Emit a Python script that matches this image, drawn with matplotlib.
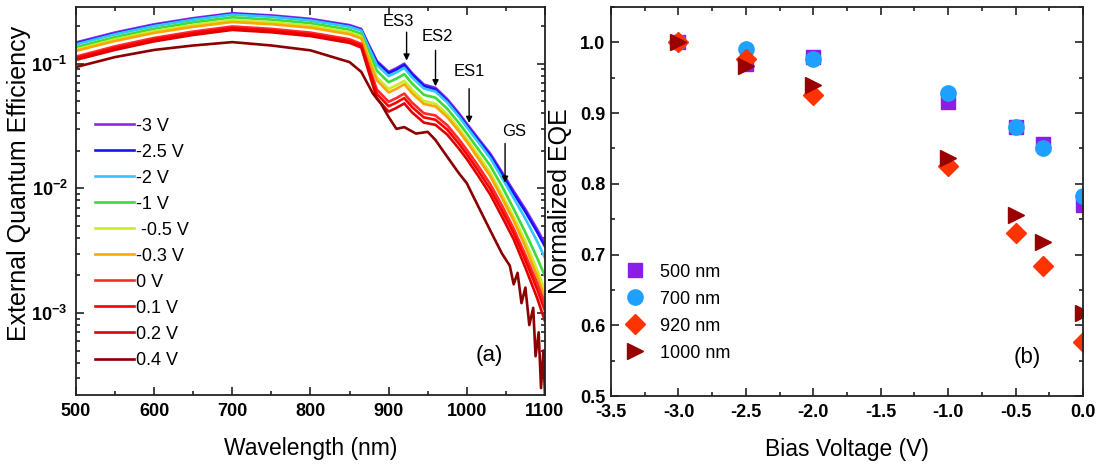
import math

import matplotlib
matplotlib.use('Agg')
import matplotlib.pyplot as plt
from matplotlib.ticker import MultipleLocator, LogLocator, FuncFormatter, NullFormatter

FONT = 'Liberation Sans'
plt.rcParams['font.family'] = [FONT, 'DejaVu Sans']
plt.rcParams['axes.unicode_minus'] = False
plt.rcParams['mathtext.fontset'] = 'custom'
plt.rcParams['mathtext.rm'] = FONT
plt.rcParams['mathtext.bf'] = FONT + ':bold'

# ---- panel (a): EQE spectra at different bias ----
wl = [500, 550, 600, 650, 700, 750, 800, 850, 865, 875, 885, 900, 910, 920, 930,
      945, 960, 975, 990, 1000, 1015, 1030, 1045, 1060, 1075, 1090, 1100]

eqe_m3 = [0.148, 0.178, 0.207, 0.232, 0.254, 0.244, 0.229, 0.204, 0.190, 0.140, 0.105, 0.086, 0.092, 0.100,
          0.084, 0.068, 0.064, 0.052, 0.040, 0.033, 0.025, 0.019, 0.0135, 0.0095, 0.0068, 0.0047, 0.0036]
eqe_m25 = [0.145, 0.174, 0.203, 0.227, 0.251, 0.240, 0.224, 0.200, 0.186, 0.137, 0.1025, 0.084, 0.0898, 0.0976,
           0.082, 0.0664, 0.0621, 0.0502, 0.0386, 0.0319, 0.0242, 0.0184, 0.0130, 0.00912, 0.00649, 0.00447, 0.00342]
eqe_m2 = [0.1428, 0.1723, 0.2008, 0.2257, 0.2479, 0.2379, 0.2226, 0.1979, 0.1843, 0.133, 0.0977, 0.0796, 0.0851,
          0.0925, 0.0777, 0.0632, 0.0598, 0.0489, 0.0376, 0.0310, 0.0233, 0.0175, 0.01215, 0.00836, 0.00571,
          0.00376, 0.00277]
eqe_m1 = [0.1354, 0.1634, 0.1909, 0.2146, 0.2357, 0.2259, 0.2116, 0.1877, 0.1739, 0.1218, 0.0877, 0.0710, 0.0759,
          0.0825, 0.0693, 0.0564, 0.0533, 0.0435, 0.0334, 0.0276, 0.0205, 0.0152, 0.0104, 0.00684, 0.00442,
          0.00277, 0.00198]
eqe_m05 = [0.1302, 0.1566, 0.1822, 0.2042, 0.2235, 0.2147, 0.2015, 0.1785, 0.1653, 0.112, 0.0777, 0.0628, 0.0672,
           0.073, 0.0617, 0.0503, 0.0477, 0.0393, 0.0302, 0.0249, 0.0183, 0.0133, 0.00891, 0.00589, 0.00374,
           0.00221, 0.00151]
eqe_m03 = [0.1268, 0.1522, 0.1766, 0.1977, 0.2159, 0.2074, 0.1947, 0.1724, 0.1596, 0.1064, 0.0735, 0.0588, 0.0629,
           0.0684, 0.0580, 0.0476, 0.0454, 0.0373, 0.0287, 0.0237, 0.01725, 0.01254, 0.00837, 0.00551, 0.0034,
           0.00197, 0.00133]
eqe_0 = [0.1140, 0.1378, 0.1610, 0.1810, 0.1989, 0.1903, 0.1775, 0.1571, 0.1444, 0.0938, 0.0620, 0.0495, 0.0530,
         0.0576, 0.0487, 0.0401, 0.0384, 0.0321, 0.0247, 0.0204, 0.0150, 0.01083, 0.00729, 0.00475, 0.00292,
         0.00174, 0.00119]
eqe_01 = [0.111, 0.1335, 0.1563, 0.1759, 0.1930, 0.1847, 0.1722, 0.1520, 0.1397, 0.0896, 0.0572, 0.0456, 0.0488,
          0.053, 0.0449, 0.0371, 0.0355, 0.0296, 0.0228, 0.0188, 0.01375, 0.00988, 0.00662, 0.00437, 0.00265,
          0.00155, 0.00104]
eqe_02 = [0.1073, 0.1291, 0.1511, 0.1701, 0.1867, 0.1786, 0.1665, 0.1469, 0.1349, 0.084, 0.0525, 0.0413, 0.0442,
          0.048, 0.0407, 0.0337, 0.0323, 0.0270, 0.0208, 0.0172, 0.0125, 0.00893, 0.00594, 0.0039, 0.00231,
          0.00132, 0.00086]

wl_04 = [500, 550, 600, 650, 700, 750, 800, 850, 865, 880, 890, 900, 910, 920, 935, 950, 960, 975, 990, 1000,
         1015, 1030, 1045, 1055, 1060, 1065, 1070, 1075, 1080, 1085, 1088, 1092, 1095, 1098, 1100]
eqe_04 = [0.094, 0.113, 0.129, 0.140, 0.149, 0.140, 0.128, 0.103, 0.086, 0.0575, 0.048, 0.0374, 0.030, 0.031,
          0.0275, 0.0284, 0.0244, 0.0179, 0.0132, 0.011, 0.0071, 0.0046, 0.0030, 0.0024, 0.0017, 0.0021, 0.0012,
          0.0016, 0.0008, 0.0011, 0.00045, 0.0007, 0.00025, 0.0005, 0.00022]

bias_labels = ['-3 V', '-2.5 V', '-2 V', '-1 V', ' -0.5 V', '-0.3 V', '0 V', '0.1 V', '0.2 V', '0.4 V']
bias_colors = ['#8a2be2', '#1414ff', '#30c8ff', '#3cdc3c', '#c8ee28', '#ffa500',
               '#ff2a2a', '#ff0000', '#e00000', '#8b0000']
spectra = [eqe_m3, eqe_m25, eqe_m2, eqe_m1, eqe_m05, eqe_m03, eqe_0, eqe_01, eqe_02]

# peak markers: (label, arrow x, arrow tail y, arrow tip y, label x, label y)
peaks = [('ES3', 923, 0.179, 0.106, 912, 0.219),
         ('ES2', 960, 0.128, 0.0659, 963, 0.166),
         ('ES1', 1003, 0.063, 0.0335, 1003, 0.0858),
         ('GS', 1049, 0.0229, 0.0111, 1060, 0.0288)]

# ---- panel (b): normalized EQE vs bias ----
bias = [-3.0, -2.5, -2.0, -1.0, -0.5, -0.3, 0.0]
norm_500 = [1.0, 0.970, 0.979, 0.915, 0.881, 0.857, 0.770]
norm_700 = [1.0, 0.990, 0.976, 0.928, 0.880, 0.850, 0.783]
norm_920 = [1.0, 0.976, 0.925, 0.825, 0.730, 0.684, 0.576]
norm_1000 = [1.0, 0.966, 0.940, 0.836, 0.756, 0.718, 0.617]

fig = plt.figure(figsize=(10.98, 4.67), dpi=100)
ax1 = fig.add_axes([0.0692, 0.1542, 0.4271, 0.8308])
ax2 = fig.add_axes([0.5565, 0.152, 0.4299, 0.833])

TICK_FS = 13
LABEL_FS = 18


def style_axes(ax):
    for sp in ax.spines.values():
        sp.set_linewidth(1.3)
        sp.set_color('#222222')
    ax.tick_params(which='both', direction='in', top=True, right=True, width=1.2, color='#222222')
    ax.tick_params(which='major', length=6, labelsize=TICK_FS)
    ax.tick_params(which='minor', length=3)
    for lab in ax.get_xticklabels() + ax.get_yticklabels():
        lab.set_fontweight('bold')


for vals, lab, col in zip(spectra, bias_labels, bias_colors):
    ax1.plot(wl, vals, color=col, lw=1.9, label=lab)
ax1.plot(wl_04, eqe_04, color=bias_colors[-1], lw=1.9, label=bias_labels[-1])

ax1.set_yscale('log')
ax1.set_xlim(500, 1100)
ax1.set_ylim(2.2e-4, 0.285)
ax1.xaxis.set_major_locator(MultipleLocator(100))
ax1.xaxis.set_minor_locator(MultipleLocator(50))
ax1.yaxis.set_major_locator(LogLocator(base=10, numticks=10))
ax1.yaxis.set_minor_locator(LogLocator(base=10, subs=range(2, 10), numticks=20))
ax1.yaxis.set_minor_formatter(NullFormatter())
ax1.yaxis.set_major_formatter(FuncFormatter(lambda v, p: r'$\mathbf{10^{%d}}$' % round(math.log10(v))))
style_axes(ax1)
ax1.tick_params(axis='y', pad=6)
ax1.tick_params(axis='x', pad=6)

for name, ax_x, y_tail, y_tip, tx, ty in peaks:
    ax1.annotate('', xy=(ax_x, y_tip), xytext=(ax_x, y_tail),
                 arrowprops=dict(arrowstyle='-|>', lw=1.0, color='k', mutation_scale=9, shrinkA=0, shrinkB=0))
    ax1.text(tx, ty, name, ha='center', va='center', fontsize=12)

ax1.set_xlabel('Wavelength (nm)', fontsize=16.5)
ax1.xaxis.set_label_coords(0.5, -0.108)
ax1.set_ylabel('External Quantum Efficiency', fontsize=LABEL_FS)
ax1.yaxis.set_label_coords(-0.095, 0.546)
ax1.legend(loc='upper left', bbox_to_anchor=(0.04, 0.715), frameon=False, fontsize=13,
           handlelength=2.2, handletextpad=0.1, labelspacing=0.5, borderpad=0, borderaxespad=0)
ax1.text(0.881, 0.103, '(a)', transform=ax1.transAxes, ha='center', va='center', fontsize=16)

# panel (b)
ax2.plot(bias, norm_500, 's', color='#8a1ee6', ms=10, label='500 nm', clip_on=True)
ax2.plot(bias, norm_700, 'o', color='#1ea0ff', ms=11, label='700 nm', clip_on=True)
ax2.plot(bias, norm_920, 'D', color='#ff3300', ms=10, label='920 nm', clip_on=True)
ax2.plot(bias, norm_1000, '>', color='#990000', ms=12, label='1000 nm', clip_on=True)

ax2.set_xlim(-3.5, 0.0)
ax2.set_ylim(0.5, 1.05)
ax2.xaxis.set_major_locator(MultipleLocator(0.5))
ax2.xaxis.set_minor_locator(MultipleLocator(0.25))
ax2.yaxis.set_major_locator(MultipleLocator(0.1))
ax2.yaxis.set_minor_locator(MultipleLocator(0.05))
ax2.xaxis.set_major_formatter(FuncFormatter(lambda v, p: '%.1f' % v))
ax2.yaxis.set_major_formatter(FuncFormatter(lambda v, p: '%.1f' % v))
style_axes(ax2)
ax2.tick_params(axis='y', pad=4)
ax2.tick_params(axis='x', pad=6)

ax2.set_xlabel('Bias Voltage (V)', fontsize=16.5)
ax2.xaxis.set_label_coords(0.5, -0.108)
ax2.set_ylabel('Normalized EQE', fontsize=LABEL_FS)
ax2.yaxis.set_label_coords(-0.082, 0.5)
ax2.legend(loc='upper left', bbox_to_anchor=(0.031, 0.34), frameon=False, fontsize=13,
           handlelength=1.0, handletextpad=0.9, labelspacing=0.55, borderpad=0, borderaxespad=0)
ax2.text(0.881, 0.098, '(b)', transform=ax2.transAxes, ha='center', va='center', fontsize=16)

fig.savefig('out.png', dpi=100)
